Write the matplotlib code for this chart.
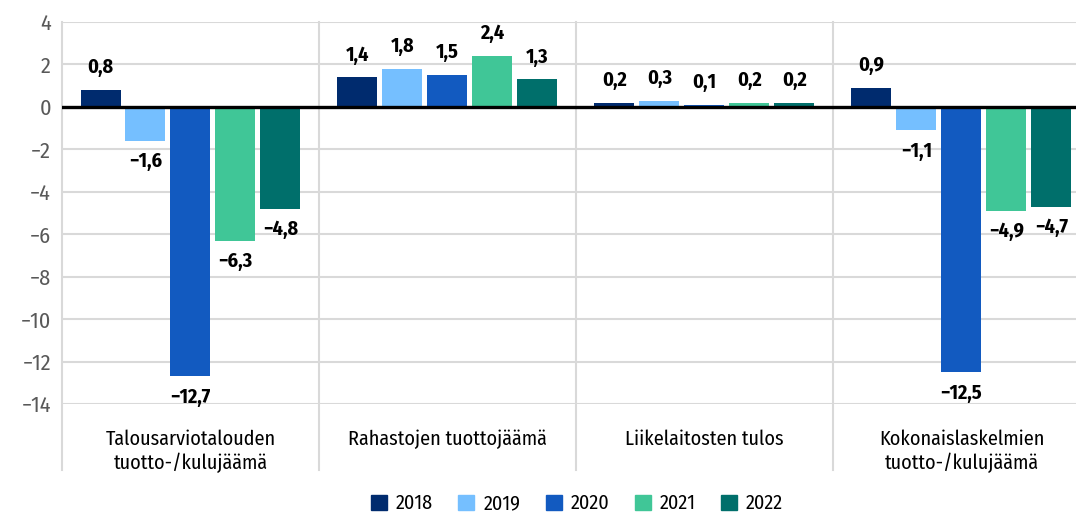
import numpy as np
import matplotlib
matplotlib.use('Agg')
import matplotlib.pyplot as plt
from matplotlib import transforms
from matplotlib.patches import Patch

plt.rcParams['font.family'] = ['Fira Sans Condensed', 'Liberation Sans', 'DejaVu Sans']

categories = ['Talousarviotalouden\ntuotto-/kulujäämä', 'Rahastojen tuottojäämä',
              'Liikelaitosten tulos', 'Kokonaislaskelmien\ntuotto-/kulujäämä']
years = ['2018', '2019', '2020', '2021', '2022']
v2018 = [0.8, 1.4, 0.2, 0.9]
v2019 = [-1.6, 1.8, 0.3, -1.1]
v2020 = [-12.7, 1.5, 0.1, -12.5]
v2021 = [-6.3, 2.4, 0.2, -4.9]
v2022 = [-4.8, 1.3, 0.2, -4.7]
series = [v2018, v2019, v2020, v2021, v2022]
colors = ['#002b6e', '#75bfff', '#125ac0', '#40c697', '#006f6b']

W, H = 1076, 518
fig = plt.figure(figsize=(W / 100, H / 100), dpi=100)
ax = fig.add_axes([62 / W, 1 - 404 / H, 1028 / W, (404 - 22) / H])

x = np.arange(len(categories))
bw = 40 / 257
step = 45 / 257
for i, (vals, c) in enumerate(zip(series, colors)):
    xs = x + (i - 2) * step
    ax.bar(xs, vals, width=bw, color=c, zorder=2, label=years[i])
    for xi, v in zip(xs, vals):
        lab = f'{v:.1f}'.replace('.', ',').replace('-', '\u2212')
        if v >= 0:
            ax.annotate(lab, (xi, v), xytext=(0, 9), textcoords='offset points',
                        ha='center', va='bottom', fontsize=14.5, fontweight='bold',
                        annotation_clip=False)
        else:
            ax.annotate(lab, (xi, v), xytext=(0, -8), textcoords='offset points',
                        ha='center', va='top', fontsize=14.5, fontweight='bold',
                        annotation_clip=False)

ax.set_xlim(-0.5, 3.5)
ax.set_ylim(-14, 4)
ax.set_yticks(np.arange(-14, 5, 2))
ax.set_yticklabels([str(t).replace('-', '\u2212') for t in range(-14, 5, 2)])
ax.tick_params(axis='y', length=0, pad=8, labelsize=16, labelcolor='#595959')
ax.tick_params(axis='x', length=0, labelbottom=False)
ax.yaxis.grid(True, color='#d9d9d9', linewidth=1.5, zorder=0)
ax.set_axisbelow(True)
for s in ax.spines.values():
    s.set_visible(False)
ax.axhline(0, color='black', linewidth=2.4, zorder=3)

for xv in [-0.5, 0.5, 1.5, 2.5]:
    ax.axvline(xv, ymin=-0.173, ymax=1, color='#d9d9d9', linewidth=1.5,
               clip_on=False, zorder=0)

trans = transforms.blended_transform_factory(ax.transData, ax.transAxes)
for xi, cat in zip(x, categories):
    ax.text(xi, -0.068, cat, transform=trans, ha='center', va='top',
            fontsize=14.5, linespacing=1.2)

handles = [Patch(color=c, label=y) for c, y in zip(colors, years)]
fig.legend(handles=handles, loc='lower center', bbox_to_anchor=(577 / W, -0.026),
           ncol=5, frameon=False, fontsize=14.5, handlelength=0.8, handleheight=0.8,
           handletextpad=0.45, columnspacing=1.25)

fig.savefig('out.png', dpi=100)
